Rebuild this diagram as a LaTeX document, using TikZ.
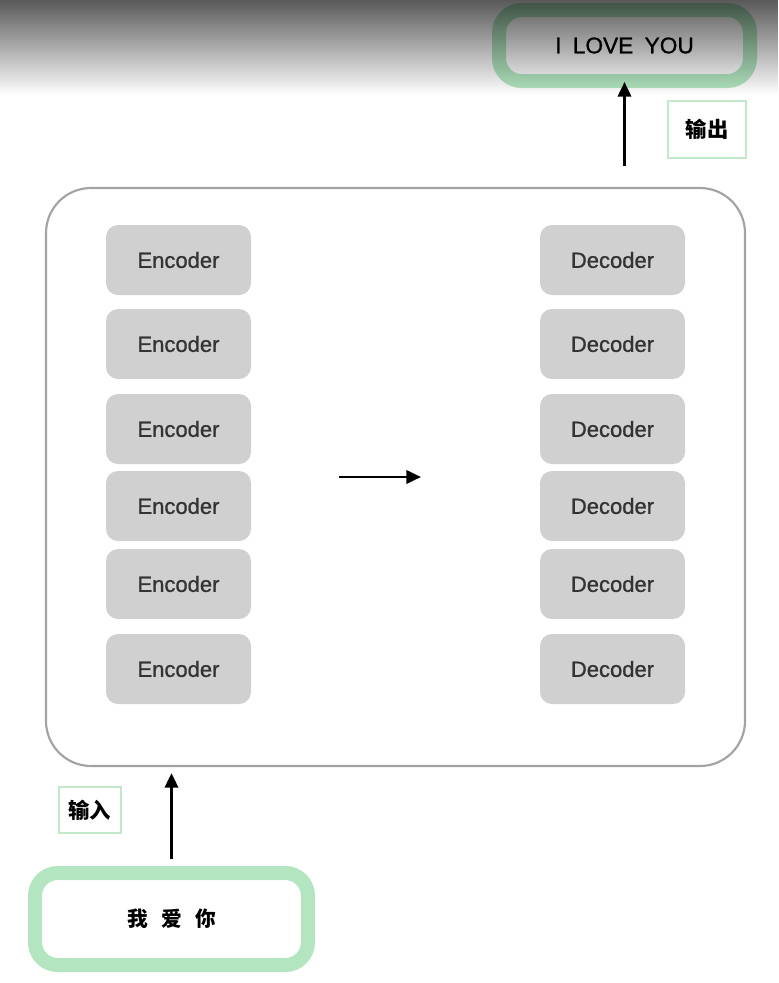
\documentclass[tikz,border=0pt]{standalone}
\usepackage{fontspec}
\setmainfont{Liberation Sans}
\newfontfamily\medsans[FakeBold=0.9]{Liberation Sans}
\newfontfamily\cjk{Noto Sans CJK SC}
\usetikzlibrary{arrows.meta,fadings}
\definecolor{boxgray}{HTML}{D0D0D0}
\definecolor{txtgray}{HTML}{333333}
\definecolor{framegray}{HTML}{A3A3A3}
\definecolor{mint}{HTML}{B2E5C0}
\definecolor{mintlight}{HTML}{C2E8CC}
\tikzset{
  x=0.75pt, y=-0.75pt,
  block/.style={fill=boxgray, rounded corners=9pt, minimum width=108.75pt,
    minimum height=52.5pt, inner sep=0pt, text=txtgray, font=\medsans\fontsize{16.5}{18}\selectfont},
  frame/.style={draw=framegray, line width=1.6pt, rounded corners=33.75pt,
    minimum width=524.25pt, minimum height=433.5pt, inner sep=0pt},
  greenbox/.style={draw=mint, line width=10.5pt, fill=white, rounded corners=17pt, inner sep=0pt},
  tagbox/.style={draw=mintlight, line width=2pt, fill=white, inner sep=0pt,
    font=\cjk\bfseries\fontsize{16}{18}\selectfont},
  arr/.style={-{Triangle[length=11pt,width=10pt]}, line width=2pt, black},
}
\begin{document}
\begin{tikzpicture}
\useasboundingbox (0,0) rectangle (779,983);
\fill[white] (0,0) rectangle (779,983);
% main frame
\node[frame] (big) at (395.5,477) {};
% encoders and decoders
\foreach \i/\yy in {1/260,2/344,3/429,4/506,5/584,6/669}{
  \node[block] (enc\i) at (178.5,\yy) {Encoder};
  \node[block] (dec\i) at (612.5,\yy) {Decoder};
}
\coordinate (m1) at (339,477);
\coordinate (m2) at (421,477);
\draw[arr] (m1) -- (m2);
% output
\node[greenbox, minimum width=188.25pt, minimum height=53.25pt,
  font=\medsans\fontsize{17}{18}\selectfont] (out) at (624.5,45.5)
  {I\hspace{0.5em}LOVE\hspace{0.5em}YOU};
\draw[arr, shorten <=15.75pt, shorten >=-4.5pt] (big.north -| out.south) -- (out.south);
\node[tagbox, minimum width=58.5pt, minimum height=42.75pt] (outtag) at (707,129.5) {输出};
% input
\node[greenbox, minimum width=204.75pt, minimum height=69pt,
  font=\cjk\bfseries\fontsize{15.5}{18}\selectfont] (in) at (171.5,919)
  {我\hspace{0.65em}爱\hspace{0.65em}你};
\draw[arr, shorten <=5.25pt, shorten >=4.5pt] (in.north) -- (in.north |- big.south);
\node[tagbox, minimum width=46.5pt, minimum height=34.5pt] (intag) at (90,810) {输入};
% screen-capture shade at top
\fill[black, fill opacity=0.65, path fading=south] (0,0) rectangle (779,95);
\end{tikzpicture}
\end{document}
